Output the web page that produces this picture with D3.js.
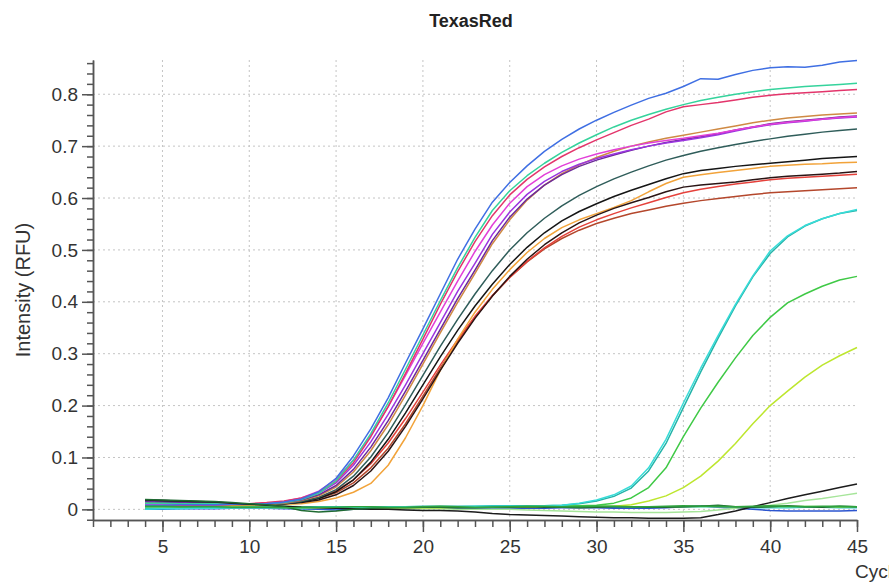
<!DOCTYPE html>
<html>
<head>
<meta charset="utf-8">
<script src="https://cdn.jsdelivr.net/npm/d3@7"></script>
<style>
  body { margin: 0; background: #fff; overflow: hidden; }
  svg { display: block; font-family: "Liberation Sans", Arial, sans-serif; }
  .axis path, .axis line { stroke: #555; stroke-width: 1.5; }
  .axis text { fill: #333; font-size: 19px; }
</style>
</head>
<body>
<svg id="chart" width="889" height="587"></svg>
<script>
// cycles 4..45
var cycles = [4,5,6,7,8,9,10,11,12,13,14,15,16,17,18,19,20,21,22,23,24,25,26,27,28,29,30,31,32,33,34,35,36,37,38,39,40,41,42,43,44,45];

var xMajor = [5,10,15,20,25,30,35,40,45];
var yMajor = [0,0.1,0.2,0.3,0.4,0.5,0.6,0.7,0.8];

// non amplified wells
var flatGreen = [0.006,0.006,0.005,0.005,0.005,0.004,0.004,0.004,0.003,0.003,0.004,0.004,0.005,0.005,0.004,0.004,0.005,0.006,0.005,0.004,0.004,0.005,0.006,0.006,0.005,0.005,0.006,0.006,0.005,0.005,0.006,0.007,0.006,0.006,0.005,0.006,0.007,0.006,0.005,0.006,0.006,0.005];
var flatLime = [0.010,0.009,0.009,0.008,0.008,0.007,0.007,0.006,0.006,0.005,0.005,0.004,0.004,0.004,0.005,0.005,0.004,0.004,0.005,0.005,0.004,0.005,0.005,0.006,0.006,0.007,0.006,0.006,0.005,0.005,0.004,0.005,0.006,0.005,0.005,0.004,0.005,0.005,0.006,0.005,0.004,0.005];
var flatBlue = [0.000,0.000,0.001,0.001,0.001,0.002,0.002,0.002,0.001,0.001,0.000,-0.001,0.000,0.001,0.001,0.001,0.002,0.002,0.002,0.001,0.001,0.001,0.002,0.002,0.003,0.003,0.003,0.002,0.002,0.002,0.003,0.005,0.007,0.004,0.002,0.000,-0.002,-0.003,-0.003,-0.003,-0.003,-0.002];
var flatDarkGreen = [0.019,0.018,0.017,0.016,0.015,0.013,0.011,0.009,0.005,-0.002,-0.005,-0.003,0.000,0.002,0.003,0.003,0.004,0.004,0.003,0.003,0.004,0.004,0.005,0.004,0.004,0.003,0.004,0.005,0.005,0.004,0.004,0.005,0.006,0.008,0.005,0.004,0.005,0.007,0.005,0.004,0.006,0.005];
var flatCyan = [0.003,0.003,0.003,0.003,0.002,0.002,0.002,0.002,0.002,0.001,0.001,0.001,0.002,0.002,0.003,0.003,0.003,0.003,0.004,0.004,0.004,0.004,0.005,0.005,0.005,0.004,0.004,0.004,0.004,0.004,0.004,0.005,0.005,0.005,0.004,0.003,0.003,0.003,0.004,0.004,0.003,0.003];
var paleGreen = [0.004,0.004,0.004,0.004,0.004,0.003,0.003,0.003,0.003,0.002,0.002,0.002,0.002,0.002,0.001,0.001,0.001,0.001,0.000,0.000,0.000,0.000,-0.001,-0.002,-0.003,-0.004,-0.005,-0.005,-0.006,-0.006,-0.006,-0.005,-0.004,-0.001,0.002,0.005,0.008,0.012,0.017,0.021,0.026,0.031];

// main cluster
var blue = [0.008,0.008,0.009,0.009,0.009,0.010,0.010,0.011,0.014,0.020,0.034,0.060,0.103,0.155,0.215,0.282,0.348,0.415,0.482,0.540,0.592,0.630,0.662,0.690,0.713,0.733,0.750,0.765,0.779,0.792,0.802,0.815,0.830,0.829,0.838,0.846,0.851,0.853,0.852,0.856,0.862,0.865];
var aqua = [0.012,0.012,0.011,0.011,0.011,0.010,0.010,0.011,0.013,0.019,0.031,0.055,0.095,0.146,0.205,0.270,0.336,0.402,0.466,0.524,0.576,0.614,0.643,0.667,0.688,0.706,0.722,0.737,0.750,0.761,0.771,0.780,0.788,0.794,0.800,0.805,0.809,0.812,0.815,0.817,0.819,0.821];
var crimson = [0.005,0.006,0.007,0.008,0.009,0.010,0.011,0.013,0.016,0.022,0.033,0.054,0.090,0.140,0.198,0.262,0.328,0.395,0.458,0.516,0.566,0.606,0.636,0.660,0.680,0.697,0.712,0.726,0.740,0.752,0.766,0.776,0.780,0.784,0.789,0.794,0.798,0.801,0.803,0.805,0.807,0.809];
var magenta = [0.010,0.010,0.010,0.010,0.010,0.010,0.010,0.012,0.015,0.022,0.035,0.058,0.095,0.143,0.198,0.258,0.320,0.380,0.440,0.497,0.548,0.590,0.622,0.645,0.662,0.675,0.685,0.693,0.700,0.706,0.711,0.715,0.720,0.725,0.731,0.737,0.742,0.746,0.749,0.752,0.755,0.757];
var purple = [0.008,0.008,0.009,0.009,0.009,0.010,0.010,0.011,0.014,0.020,0.031,0.051,0.085,0.130,0.183,0.240,0.300,0.360,0.420,0.474,0.530,0.573,0.607,0.632,0.651,0.665,0.676,0.685,0.693,0.700,0.706,0.711,0.716,0.722,0.729,0.736,0.741,0.745,0.748,0.752,0.754,0.756];
var indigo = [0.015,0.014,0.013,0.012,0.011,0.010,0.010,0.011,0.013,0.018,0.028,0.046,0.077,0.120,0.171,0.228,0.287,0.347,0.406,0.461,0.518,0.563,0.598,0.625,0.645,0.661,0.673,0.683,0.692,0.700,0.707,0.713,0.718,0.724,0.731,0.737,0.743,0.747,0.750,0.753,0.756,0.758];
var peru = [0.002,0.003,0.004,0.005,0.007,0.008,0.009,0.010,0.012,0.017,0.026,0.043,0.072,0.113,0.163,0.220,0.280,0.340,0.399,0.455,0.512,0.558,0.596,0.625,0.647,0.664,0.678,0.690,0.700,0.708,0.715,0.721,0.727,0.733,0.739,0.745,0.750,0.754,0.757,0.760,0.762,0.764];
var slate = [0.018,0.017,0.016,0.014,0.013,0.011,0.010,0.010,0.011,0.015,0.023,0.038,0.064,0.101,0.148,0.202,0.258,0.314,0.366,0.415,0.460,0.500,0.533,0.561,0.585,0.605,0.622,0.637,0.650,0.662,0.673,0.682,0.690,0.697,0.703,0.709,0.714,0.719,0.723,0.727,0.730,0.733];
var black1 = [0.016,0.015,0.014,0.013,0.012,0.011,0.010,0.010,0.011,0.014,0.021,0.034,0.057,0.091,0.135,0.186,0.240,0.294,0.345,0.392,0.434,0.472,0.505,0.533,0.556,0.574,0.589,0.603,0.615,0.626,0.637,0.647,0.653,0.657,0.661,0.664,0.667,0.670,0.673,0.676,0.678,0.680];
var sandy = [0.003,0.004,0.005,0.006,0.007,0.008,0.009,0.009,0.010,0.011,0.015,0.022,0.033,0.050,0.085,0.138,0.200,0.268,0.328,0.380,0.424,0.462,0.495,0.522,0.543,0.558,0.570,0.582,0.595,0.612,0.628,0.640,0.645,0.649,0.653,0.657,0.661,0.663,0.665,0.666,0.668,0.669];
var black2 = [0.012,0.012,0.011,0.011,0.011,0.010,0.010,0.010,0.011,0.013,0.018,0.028,0.046,0.074,0.112,0.160,0.213,0.268,0.320,0.368,0.411,0.449,0.482,0.510,0.533,0.552,0.567,0.580,0.591,0.601,0.612,0.621,0.625,0.628,0.631,0.635,0.639,0.642,0.644,0.646,0.648,0.651];
var red = [0.006,0.007,0.008,0.009,0.009,0.010,0.010,0.011,0.013,0.016,0.023,0.036,0.057,0.088,0.128,0.175,0.226,0.278,0.327,0.372,0.412,0.447,0.478,0.504,0.526,0.544,0.558,0.570,0.581,0.591,0.601,0.610,0.617,0.622,0.627,0.631,0.635,0.638,0.640,0.642,0.644,0.646];
var sienna = [0.008,0.008,0.009,0.009,0.009,0.010,0.010,0.010,0.012,0.015,0.021,0.032,0.051,0.080,0.118,0.165,0.218,0.272,0.323,0.370,0.411,0.447,0.477,0.502,0.522,0.538,0.551,0.561,0.570,0.577,0.584,0.590,0.595,0.599,0.603,0.607,0.610,0.612,0.614,0.616,0.618,0.620];

// late wells
var turquoise = [0.000,0.001,0.001,0.002,0.002,0.003,0.003,0.003,0.003,0.003,0.004,0.004,0.004,0.004,0.005,0.005,0.005,0.005,0.005,0.006,0.006,0.006,0.006,0.007,0.008,0.012,0.018,0.028,0.045,0.080,0.135,0.205,0.272,0.335,0.395,0.450,0.498,0.527,0.547,0.560,0.570,0.578];
var seaGreen = [0.002,0.002,0.002,0.003,0.003,0.003,0.004,0.004,0.004,0.004,0.005,0.005,0.004,0.004,0.005,0.005,0.006,0.006,0.006,0.006,0.007,0.007,0.007,0.007,0.008,0.011,0.016,0.025,0.041,0.074,0.127,0.196,0.265,0.330,0.392,0.448,0.493,0.525,0.546,0.560,0.570,0.576];
var green = [0.005,0.005,0.005,0.005,0.005,0.004,0.004,0.004,0.004,0.004,0.004,0.004,0.005,0.005,0.005,0.005,0.005,0.005,0.005,0.005,0.005,0.005,0.006,0.006,0.006,0.007,0.008,0.012,0.022,0.042,0.080,0.140,0.195,0.245,0.292,0.335,0.370,0.398,0.415,0.430,0.442,0.449];
var yellowGreen = [0.004,0.004,0.004,0.004,0.004,0.004,0.004,0.004,0.004,0.004,0.004,0.003,0.003,0.003,0.003,0.003,0.003,0.003,0.004,0.004,0.004,0.004,0.004,0.004,0.005,0.005,0.005,0.006,0.009,0.016,0.026,0.042,0.064,0.093,0.127,0.165,0.200,0.228,0.255,0.278,0.296,0.312];
var lateBlack = [0.018,0.017,0.016,0.015,0.014,0.012,0.010,0.008,0.006,0.004,0.003,0.002,0.001,0.000,0.000,-0.001,-0.002,-0.002,-0.003,-0.005,-0.008,-0.010,-0.011,-0.012,-0.013,-0.014,-0.015,-0.016,-0.016,-0.017,-0.017,-0.017,-0.016,-0.010,-0.003,0.005,0.013,0.021,0.028,0.035,0.042,0.049];

var series = [
    {values: flatCyan, color: '#35c6d6'},
    {values: flatBlue, color: '#2d55cf'},
    {values: flatLime, color: '#6ee05a'},
    {values: paleGreen, color: '#a6e59a'},
    {values: sienna, color: '#b4472c'},
    {values: red, color: '#e5413b'},
    {values: sandy, color: '#f2a33a'},
    {values: black2, color: '#2a1414'},
    {values: black1, color: '#151515'},
    {values: slate, color: '#2f5d5a'},
    {values: peru, color: '#cf8a44'},
    {values: indigo, color: '#6c2a99'},
    {values: purple, color: '#9b35e0'},
    {values: magenta, color: '#e23fd8'},
    {values: crimson, color: '#e3356b'},
    {values: aqua, color: '#35d39c'},
    {values: blue, color: '#3f6fe3'},
    {values: yellowGreen, color: '#bde62e'},
    {values: green, color: '#3fc946'},
    {values: seaGreen, color: '#25b3a8'},
    {values: turquoise, color: '#38dcd8'},
    {values: lateBlack, color: '#1c1c1c'},
    {values: flatDarkGreen, color: '#1f6a32'},
    {values: flatGreen, color: '#2fa33f'}
];

var svg = d3.select('#chart');

var x = d3.scaleLinear().domain([1, 45]).range([93, 857]);
var y = d3.scaleLinear().domain([-0.0205, 0.866]).range([520, 60]);

// grid
svg.append('g').selectAll('line')
    .data(xMajor.filter(function(d){ return d < 45; }))
    .enter().append('line')
    .attr('x1', function(d){ return x(d); })
    .attr('x2', function(d){ return x(d); })
    .attr('y1', y.range()[1])
    .attr('y2', y.range()[0])
    .style('stroke', '#c4c4c4')
    .style('stroke-dasharray', '2,3');

svg.append('g').selectAll('line')
    .data(yMajor)
    .enter().append('line')
    .attr('x1', x.range()[0])
    .attr('x2', x.range()[1])
    .attr('y1', function(d){ return y(d); })
    .attr('y2', function(d){ return y(d); })
    .style('stroke', '#c4c4c4')
    .style('stroke-dasharray', '2,3');

// curves
var line = d3.line()
    .x(function(d, i){ return x(cycles[i]); })
    .y(function(d){ return y(d); });

svg.append('g').selectAll('path')
    .data(series)
    .enter().append('path')
    .attr('d', function(d){ return line(d.values); })
    .style('fill', 'none')
    .style('stroke', function(d){ return d.color; })
    .style('stroke-width', 1.5)
    .style('stroke-linejoin', 'round');

// axes: minor ticks then major ticks
var xMinor = [];
for (var c = 1; c <= 45; c++) xMinor.push(c);
var yMinor = [];
for (var k = -1; k <= 43; k++) yMinor.push(k * 0.02);

svg.append('g').attr('class', 'axis')
    .attr('transform', 'translate(0,520)')
    .call(d3.axisBottom(x).tickValues(xMinor).tickSize(7).tickSizeOuter(0).tickFormat(''));

svg.append('g').attr('class', 'axis')
    .attr('transform', 'translate(0,520)')
    .call(d3.axisBottom(x).tickValues(xMajor).tickSize(12).tickSizeOuter(0).tickPadding(8).tickFormat(d3.format('d')));

svg.append('g').attr('class', 'axis')
    .attr('transform', 'translate(93,0)')
    .call(d3.axisLeft(y).tickValues(yMinor).tickSize(6).tickSizeOuter(0).tickFormat(''));

svg.append('g').attr('class', 'axis')
    .attr('transform', 'translate(93,0)')
    .call(d3.axisLeft(y).tickValues(yMajor).tickSize(11).tickSizeOuter(0).tickPadding(4)
        .tickFormat(function(d){ return d === 0 ? '0' : d3.format('.1f')(d); }));

// titles
svg.append('text')
    .attr('x', 471).attr('y', 27)
    .attr('text-anchor', 'middle')
    .style('font-size', '18px').style('font-weight', 'bold').style('fill', '#222')
    .text('TexasRed');

svg.append('text')
    .attr('transform', 'translate(30,290) rotate(-90)')
    .attr('text-anchor', 'middle')
    .style('font-size', '20px').style('fill', '#333')
    .text('Intensity (RFU)');

// the x title runs past the right edge, as in the original export
svg.append('text')
    .attr('x', 855).attr('y', 578)
    .style('font-size', '19px').style('fill', '#333')
    .text('Cycles');
</script>
</body>
</html>
